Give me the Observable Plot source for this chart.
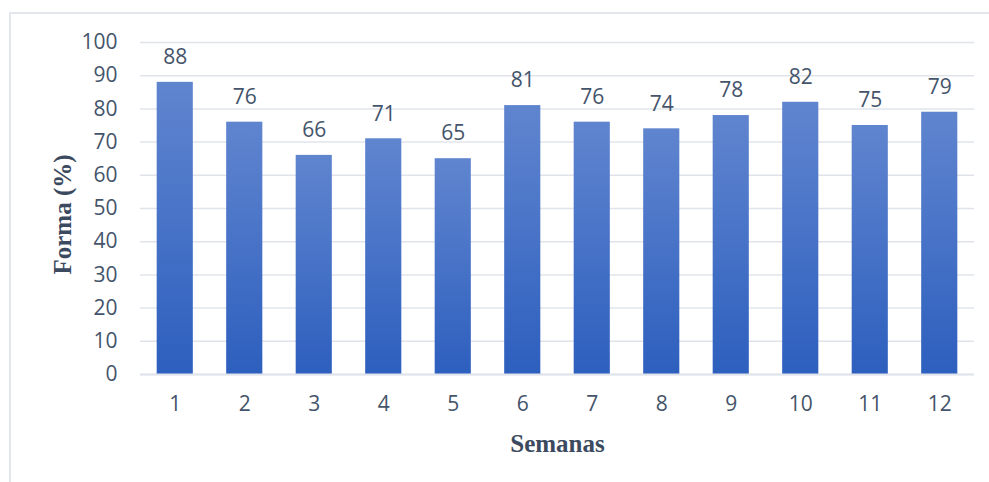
<!DOCTYPE html>
<html>
<head>
<meta charset="utf-8">
<script src="https://cdn.jsdelivr.net/npm/d3@7"></script>
<script src="https://cdn.jsdelivr.net/npm/@observablehq/plot@0.6"></script>
<style>
  html, body { margin: 0; padding: 0; background: #fff; }
  #wrap { position: relative; width: 989px; height: 482px; overflow: hidden; }
  #frame { position: absolute; left: 9px; top: 12px; width: 1200px; height: 800px;
           border: 2px solid #e3e7ed; box-sizing: border-box; }
  #chart { position: absolute; left: 0; top: 0; }
</style>
</head>
<body>
<div id="wrap">
  <div id="frame"></div>
  <div id="chart"></div>
</div>
<script>
// Weekly "Forma" percentage
const semanas = [1, 2, 3, 4, 5, 6, 7, 8, 9, 10, 11, 12];
const forma = [88, 76, 66, 71, 65, 81, 76, 74, 78, 82, 75, 79];
const yTicks = [0, 10, 20, 30, 40, 50, 60, 70, 80, 90, 100];

const data = semanas.map((s, i) => ({semana: String(s), valor: forma[i]}));

const textColor = "#44546a";
const gridColor = "#e0e4ea";

const chart = Plot.plot({
  width: 989,
  height: 482,
  marginLeft: 140,
  marginRight: 15,
  marginTop: 42,
  marginBottom: 108,
  style: {fontFamily: "Open Sans", fontSize: "21px", color: textColor, background: "transparent"},
  x: {domain: semanas.map(String), paddingInner: 0.48, paddingOuter: 0.24, round: false, label: null},
  y: {domain: [0, 100], ticks: yTicks, label: null},
  marks: [
    () => {
      const svg = d3.create("svg:defs");
      const g = svg.append("linearGradient").attr("id", "barGrad")
        .attr("x1", 0).attr("y1", 0).attr("x2", 0).attr("y2", 1);
      g.append("stop").attr("offset", "0%").attr("stop-color", "#6085cf");
      g.append("stop").attr("offset", "100%").attr("stop-color", "#2d5fbe");
      return svg.node();
    },
    Plot.gridY(yTicks, {stroke: gridColor, strokeOpacity: 1, strokeWidth: 1.5}),
    Plot.barY(data, {x: "semana", y: "valor", fill: "url(#barGrad)"}),
    Plot.ruleY([0], {stroke: gridColor, strokeWidth: 2}),
    Plot.axisY(yTicks, {tickSize: 0, tickPadding: 23, fill: textColor, label: null}),
    Plot.axisX({tickSize: 0, tickPadding: 22, fill: textColor, label: null}),
    Plot.text(data, {x: "semana", y: "valor", text: d => String(d.valor), dy: -25, fill: textColor}),
    Plot.text(["Semanas"], {frameAnchor: "bottom", lineAnchor: "middle", textAnchor: "middle", dy: 69, fontFamily: "Liberation Serif", fontWeight: "bold", fontSize: 25, fill: "#3b4a5e"}),
    Plot.text(["Forma (%)"], {frameAnchor: "left", lineAnchor: "middle", textAnchor: "middle", dx: -78, dy: 6, rotate: -90, fontFamily: "Liberation Serif", fontWeight: "bold", fontSize: 25, fill: "#3b4a5e"})
  ]
});

document.getElementById("chart").appendChild(chart);
</script>
</body>
</html>
